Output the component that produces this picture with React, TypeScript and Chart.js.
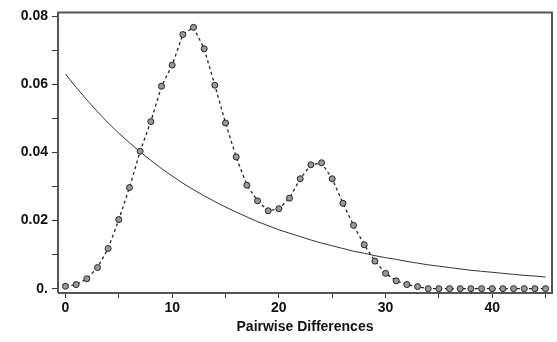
import React, { useEffect, useRef } from "react";
import { Chart, registerables } from "chart.js";

Chart.register(...registerables);

const differences: number[] = Array.from({ length: 46 }, (_, i) => i);

const observed: number[] = [
  0.0007, 0.0012, 0.0029, 0.0062, 0.0118, 0.0203, 0.0297, 0.0404, 0.0491, 0.0595,
  0.0657, 0.0747, 0.0768, 0.0705, 0.0598, 0.0487, 0.0387, 0.0304, 0.0258, 0.0229,
  0.0235, 0.0266, 0.0323, 0.0364, 0.037, 0.0323, 0.0251, 0.0186, 0.0129, 0.0081,
  0.0045, 0.0023, 0.0012, 0.0006, 0, 0, 0, 0, 0, 0,
  0, 0, 0, 0, 0, 0,
];

const expected: number[] = [
  0.0631, 0.0592, 0.0555, 0.052, 0.0487, 0.0457, 0.0429, 0.0402, 0.0377, 0.0353,
  0.0331, 0.031, 0.0291, 0.0273, 0.0256, 0.024, 0.0225, 0.0211, 0.0197, 0.0185,
  0.0173, 0.0163, 0.0153, 0.0143, 0.0134, 0.0126, 0.0118, 0.011, 0.0104, 0.0097,
  0.0091, 0.0086, 0.008, 0.0075, 0.007, 0.0066, 0.0062, 0.0058, 0.0054, 0.0051,
  0.0048, 0.0045, 0.0042, 0.0039, 0.0037, 0.0034,
];

const xTicks: number[] = [0, 5, 10, 15, 20, 25, 30, 35, 40, 45];
const yTicks: number[] = [0, 0.01, 0.02, 0.03, 0.04, 0.05, 0.06, 0.07, 0.08];
const xTitle = "Pairwise Differences";

const frame = {
  id: "frame",
  afterDraw(chart: any) {
    const { ctx, chartArea } = chart;
    ctx.save();
    ctx.strokeStyle = "#555";
    ctx.lineWidth = 2;
    ctx.beginPath();
    ctx.moveTo(chartArea.left, chartArea.bottom);
    ctx.lineTo(chartArea.left, chartArea.top);
    ctx.lineTo(chartArea.right, chartArea.top);
    ctx.lineTo(chartArea.right, chartArea.bottom);
    ctx.lineTo(chartArea.left, chartArea.bottom);
    ctx.stroke();
    ctx.restore();
  },
};

export default function App() {
  const ref = useRef<HTMLCanvasElement>(null);
  useEffect(() => {
    if (!ref.current) return;
    const font = { family: "'Liberation Sans', Arial, sans-serif", size: 14, weight: "bold" as const };
    const chart = new Chart(ref.current, {
      type: "line",
      data: {
        datasets: [
          {
            label: "Observed",
            data: differences.map((x, i) => ({ x, y: observed[i] })),
            borderColor: "#222",
            borderWidth: 1.3,
            borderDash: [3, 3],
            pointRadius: 3,
            pointBackgroundColor: "#9a9a9a",
            pointBorderColor: "#222",
            pointBorderWidth: 1,
            fill: false,
            tension: 0,
            order: 0,
          },
          {
            label: "Expected",
            data: differences.map((x, i) => ({ x, y: expected[i] })),
            borderColor: "#333",
            borderWidth: 1,
            pointRadius: 0,
            fill: false,
            tension: 0,
            order: 1,
          },
        ],
      },
      options: {
        animation: false,
        responsive: false,
        layout: { padding: { top: 8, right: 5, left: 0, bottom: 0 } },
        plugins: { legend: { display: false }, tooltip: { enabled: false } },
        scales: {
          x: {
            type: "linear",
            min: -0.7,
            max: 45.6,
            afterFit: (s: any) => {
              s.height = 49;
            },
            afterBuildTicks: (s: any) => {
              s.ticks = xTicks.map((v) => ({ value: v }));
            },
            ticks: {
              autoSkip: false,
              maxRotation: 0,
              padding: 2,
              color: "#111",
              font,
              callback: (v: any) => (Number(v) % 10 === 0 ? String(v) : ""),
            },
            grid: {
              display: true,
              drawOnChartArea: false,
              drawTicks: true,
              tickLength: 5,
              tickColor: "#333",
            },
            border: { display: false },
            title: {
              display: true,
              text: xTitle,
              color: "#111",
              font,
              padding: { top: 0, bottom: 6 },
            },
          },
          y: {
            type: "linear",
            min: -0.00128,
            max: 0.0812,
            afterFit: (s: any) => {
              s.width = 58;
            },
            afterBuildTicks: (s: any) => {
              s.ticks = yTicks.map((v) => ({ value: v }));
            },
            ticks: {
              autoSkip: false,
              padding: 4,
              color: "#111",
              font,
              callback: (v: any) => {
                const n = Number(v);
                if (n === 0) return "0.";
                const k = Math.round(n * 100);
                return k % 2 === 0 ? n.toFixed(2) : "";
              },
            },
            grid: {
              display: true,
              drawOnChartArea: false,
              drawTicks: true,
              tickLength: 6,
              tickColor: "#333",
            },
            border: { display: false },
          },
        },
      },
      plugins: [frame],
    });
    return () => chart.destroy();
  }, []);
  return (
    <div style={{ position: "absolute", left: 0, top: 0, width: 557, height: 342, background: "#fff" }}>
      <canvas ref={ref} width={557} height={342} />
    </div>
  );
}
